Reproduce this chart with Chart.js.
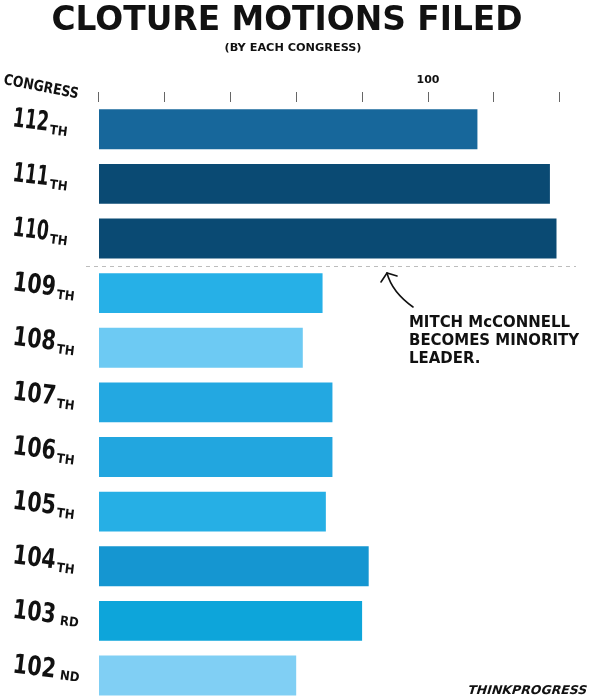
<!DOCTYPE html>
<html>
<head>
<meta charset="utf-8">
<script src="https://cdn.jsdelivr.net/npm/chart.js@4.4.0/dist/chart.umd.min.js"></script>
<style>
  html, body { margin: 0; padding: 0; background: #fff; overflow: hidden; }
  #wrap { width: 590px; height: 710px; }
</style>
</head>
<body>
<div id="wrap"><canvas id="myChart" width="590" height="710"></canvas></div>
<script>
// data
const congresses = ["112", "111", "110", "109", "108", "107", "106", "105", "104", "103", "102"];
const suffixes = ["TH", "TH", "TH", "TH", "TH", "TH", "TH", "TH", "TH", "RD", "ND"];
const motions = [115, 137, 139, 68, 62, 71, 71, 69, 82, 80, 60];
const barColors = ["#17679b", "#0a4a73", "#0a4a73", "#26b0e7", "#6dcaf3", "#23a8e1",
  "#22a6df", "#26afe5", "#1596d1", "#0da5da", "#80cff4"];
const axisTicks = [0, 20, 40, 60, 80, 100, 120, 140];
const labelledTick = 100;

const NUM_FONT = '"Liberation Sans Narrow", "DejaVu Sans Condensed", "Liberation Sans", sans-serif';
const HEAVY_FONT = '"DejaVu Sans", "Liberation Sans", sans-serif';

// draw text squeezed/stretched to a given width
function fitText(ctx, text, x, y, width, font, align) {
  ctx.save();
  ctx.font = font;
  const w = ctx.measureText(text).width;
  const s = width / w;
  let x0 = x;
  if (align === "center") x0 = x - width / 2;
  ctx.translate(x0, y);
  ctx.scale(s, 1);
  ctx.textAlign = "left";
  ctx.fillText(text, 0, 0);
  ctx.restore();
}

const decorations = {
  id: "decorations",
  afterDraw(chart) {
    const ctx = chart.ctx;
    const yScale = chart.scales.y;
    ctx.save();
    ctx.fillStyle = "#111";
    ctx.textBaseline = "alphabetic";

    // title + subtitle
    fitText(ctx, "CLOTURE MOTIONS FILED", 287, 30, 471, "bold 33px " + HEAVY_FONT, "center");
    fitText(ctx, "(BY EACH CONGRESS)", 293, 51, 137, "bold 10px " + HEAVY_FONT, "center");

    // "CONGRESS" header, tilted
    ctx.save();
    ctx.translate(3, 84);
    ctx.rotate(11 * Math.PI / 180);
    fitText(ctx, "CONGRESS", 0, 0, 76, "bold 15px " + NUM_FONT, "left");
    ctx.restore();

    // category labels with small suffix
    congresses.forEach((c, i) => {
      const yc = yScale.getPixelForValue(i);
      ctx.save();
      ctx.translate(12, yc - 3);
      ctx.rotate(7 * Math.PI / 180);
      ctx.font = "bold 27px " + NUM_FONT;
      const w = ctx.measureText(c).width;
      const target = c.startsWith("11") ? 36 : 43;
      ctx.save();
      ctx.scale(target / w, 1);
      ctx.fillText(c, 0, 0);
      ctx.restore();
      ctx.font = "bold 13px " + NUM_FONT;
      const gap = suffixes[i] === "TH" ? 2 : 5;
      ctx.fillText(suffixes[i], target + gap, suffixes[i] === "TH" ? 3 : 1);
      ctx.restore();
    });

    // dashed divider between 110th and 109th
    const yDiv = (yScale.getPixelForValue(2) + yScale.getPixelForValue(3)) / 2;
    ctx.save();
    ctx.strokeStyle = "#bdbdbd";
    ctx.lineWidth = 1;
    ctx.setLineDash([4, 4]);
    ctx.beginPath();
    ctx.moveTo(86, Math.round(yDiv) + 0.5);
    ctx.lineTo(576, Math.round(yDiv) + 0.5);
    ctx.stroke();
    ctx.restore();

    // curved arrow pointing at the divider
    ctx.save();
    ctx.strokeStyle = "#111";
    ctx.lineWidth = 1.6;
    ctx.lineCap = "round";
    ctx.beginPath();
    ctx.moveTo(413, 307);
    ctx.quadraticCurveTo(392, 292, 387, 273);
    ctx.stroke();
    ctx.beginPath();
    ctx.moveTo(381, 282);
    ctx.lineTo(387, 273);
    ctx.lineTo(397, 276);
    ctx.stroke();
    ctx.restore();

    // annotation
    ctx.font = "bold 16px " + HEAVY_FONT;
    const s = 161 / ctx.measureText("MITCH McCONNELL").width;
    ["MITCH McCONNELL", "BECOMES MINORITY", "LEADER."].forEach((t, k) => {
      ctx.save();
      ctx.translate(409, 327 + k * 18);
      ctx.scale(s, 1);
      ctx.fillText(t, 0, 0);
      ctx.restore();
    });

    // logo
    ctx.save();
    ctx.translate(467, 694);
    ctx.transform(1, 0, -0.3, 1, 0, 0);
    fitText(ctx, "THINKPROGRESS", 0, 0, 119, "bold 12px " + HEAVY_FONT, "left");
    ctx.restore();

    ctx.restore();
  }
};

const ctx = document.getElementById("myChart").getContext("2d");
new Chart(ctx, {
  type: "bar",
  data: {
    labels: congresses,
    datasets: [{
      data: motions,
      backgroundColor: barColors,
      borderWidth: 0,
      categoryPercentage: 1,
      barPercentage: 0.73,
    }],
  },
  options: {
    indexAxis: "y",
    responsive: false,
    animation: false,
    layout: { padding: { left: 98.5, right: 30.2, top: 62, bottom: 7.2 } },
    plugins: { legend: { display: false }, tooltip: { enabled: false } },
    scales: {
      x: {
        position: "top",
        min: 0,
        max: 140,
        afterFit: (scale) => { scale.height = 40; },
        afterBuildTicks: (scale) => { scale.ticks = axisTicks.map(v => ({ value: v })); },
        border: { display: false },
        grid: { drawOnChartArea: false, color: "#666", lineWidth: 1, tickLength: 10 },
        ticks: {
          autoSkip: false,
          maxRotation: 0,
          padding: 5,
          color: "#111",
          font: { family: HEAVY_FONT, size: 11, weight: "bold" },
          callback: (v) => (v === labelledTick ? String(v) : ""),
        },
      },
      y: { display: false },
    },
  },
  plugins: [decorations],
});
</script>
</body>
</html>
